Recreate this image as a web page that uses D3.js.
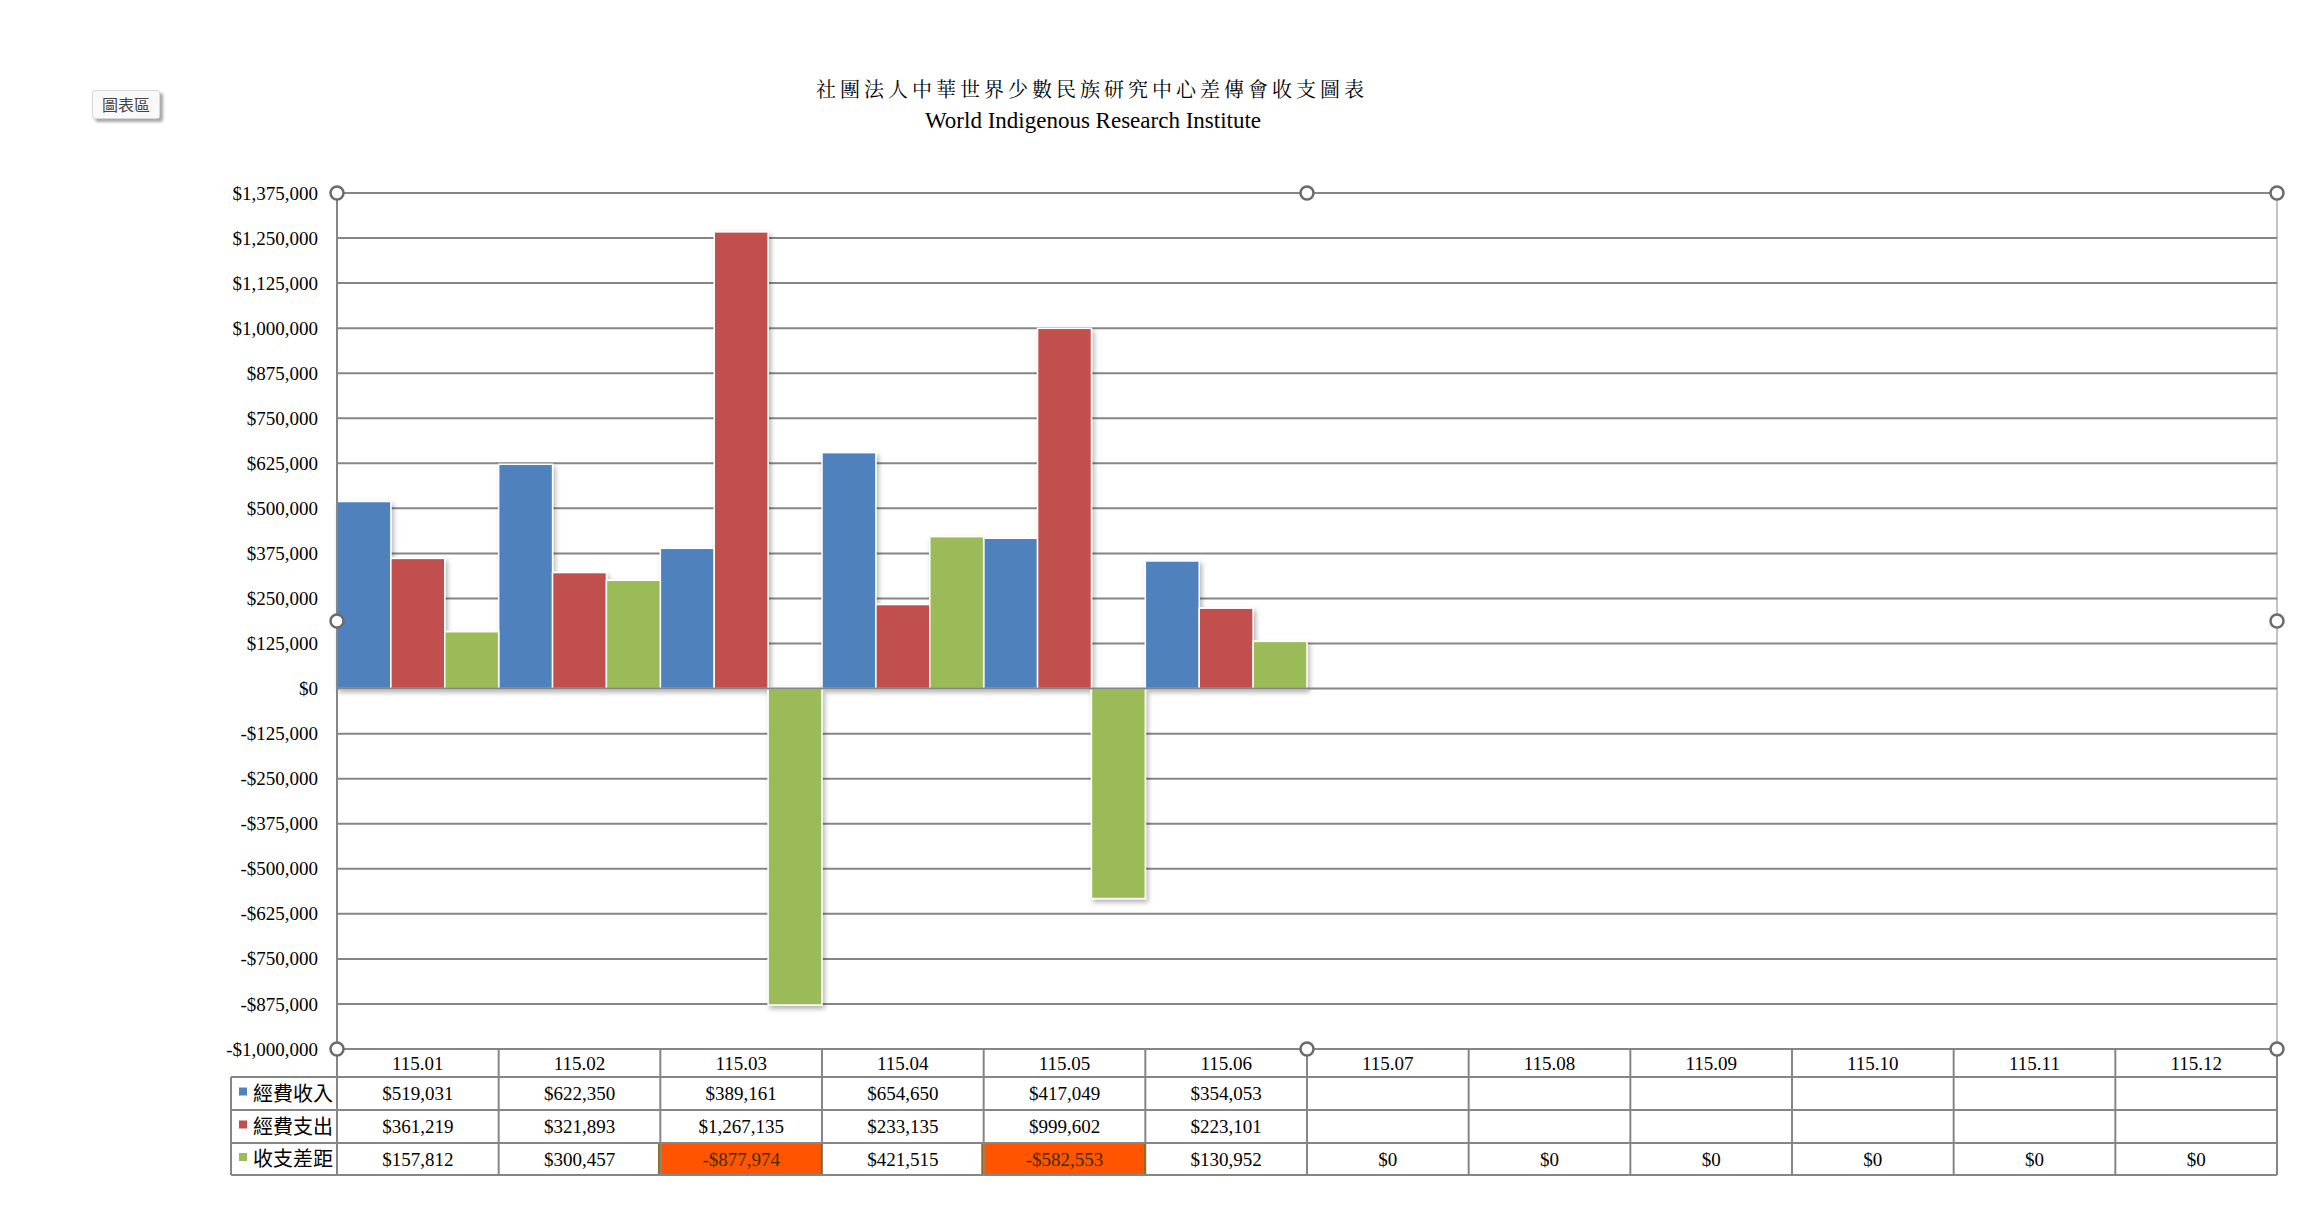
<!DOCTYPE html>
<html>
<head>
    <meta charset="utf-8">
    <title>社團法人中華世界少數民族研究中心差傳會收支圖表</title>
    <script src="https://d3js.org/d3.v7.min.js"></script>
    <style>
        body {
            margin: 0;
            padding: 0;
            background-color: #ffffff;
        }
        .chart-btn {
            position: absolute;
            left: 92px;
            top: 90px;
            width: 66px;
            height: 27px;
            background: #f9f9f9;
            border: 1px solid #d8d8d8;
            border-radius: 3px;
            box-shadow: 3px 3px 3px rgba(0, 0, 0, 0.35);
            font-family: "Noto Sans CJK TC", sans-serif;
            font-size: 16px;
            line-height: 27px;
            text-align: center;
            color: #444;
        }
        .tick text {
            font-family: "Liberation Serif", serif;
            font-size: 19px;
            fill: #000;
        }
    </style>
</head>
<body>
    <div class="chart-btn">圖表區</div>
    <div id="chart"></div>

    <script>
        const titleZh = "社團法人中華世界少數民族研究中心差傳會收支圖表";
        const titleEn = "World Indigenous Research Institute";

        const months = ["115.01", "115.02", "115.03", "115.04", "115.05", "115.06",
                        "115.07", "115.08", "115.09", "115.10", "115.11", "115.12"];
        const seriesNames = ["經費收入", "經費支出", "收支差距"];
        const seriesColors = ["#4F81BD", "#C0504D", "#9BBB59"];

        const income  = [519031, 622350, 389161, 654650, 417049, 354053, null, null, null, null, null, null];
        const expense = [361219, 321893, 1267135, 233135, 999602, 223101, null, null, null, null, null, null];
        const balance = [157812, 300457, -877974, 421515, -582553, 130952, 0, 0, 0, 0, 0, 0];

        const yTicks = [-1000000, -875000, -750000, -625000, -500000, -375000, -250000, -125000, 0,
                        125000, 250000, 375000, 500000, 625000, 750000, 875000, 1000000, 1125000, 1250000, 1375000];

        const allSeries = [income, expense, balance];

        const W = 2319, H = 1216;
        const plot = {left: 337, right: 2277, top: 193, bottom: 1049};
        const rowH = [28, 33, 33, 32];   // header row + 3 data rows
        const legendLeft = 231;
        const gridColor = "#868686";

        const fmt = d3.formatLocale({decimal: ".", thousands: ",", grouping: [3], currency: ["$", ""], minus: "-"})
            .format("$,.0f");

        const svg = d3.select("#chart")
            .append("svg")
                .attr("width", W)
                .attr("height", H)
                .style("display", "block");

        // soft shadow under the bars
        const defs = svg.append("defs");
        defs.append("filter")
            .attr("id", "shadow")
            .attr("x", "-10%").attr("y", "-10%")
            .attr("width", "130%").attr("height", "130%")
          .append("feDropShadow")
            .attr("dx", 2).attr("dy", 3)
            .attr("stdDeviation", 2.5)
            .attr("flood-color", "#000")
            .attr("flood-opacity", 0.3);

        // titles
        svg.append("text")
            .attr("x", 1092)
            .attr("y", 97)
            .attr("text-anchor", "middle")
            .style("font-family", "'Noto Serif CJK TC', 'Noto Sans CJK TC', serif")
            .style("font-size", "20px")
            .style("letter-spacing", "4px")
            .text(titleZh);

        svg.append("text")
            .attr("x", 1093)
            .attr("y", 128)
            .attr("text-anchor", "middle")
            .style("font-family", "'Liberation Serif', serif")
            .style("font-size", "23px")
            .text(titleEn);

        const x = d3.scaleBand()
            .domain(months)
            .range([plot.left, plot.right])
            .padding(0);

        const xSub = d3.scaleBand()
            .domain(seriesNames)
            .range([0, x.bandwidth()])
            .padding(0);

        const y = d3.scaleLinear()
            .domain([yTicks[0], yTicks[yTicks.length - 1]])
            .range([plot.bottom, plot.top]);

        // gridlines
        svg.append("g")
            .selectAll("line")
            .data(yTicks.filter(d => d !== 0))
            .enter().append("line")
                .attr("x1", plot.left)
                .attr("x2", plot.right)
                .attr("y1", d => y(d))
                .attr("y2", d => y(d))
                .style("stroke", gridColor)
                .style("stroke-width", 2);

        // right border of plot area
        svg.append("line")
            .attr("x1", plot.right).attr("x2", plot.right)
            .attr("y1", plot.top).attr("y2", plot.bottom)
            .style("stroke", gridColor)
            .style("stroke-width", 1);

        // bars
        const bars = svg.append("g").attr("filter", "url(#shadow)");
        allSeries.forEach(function(values, i) {
            bars.selectAll(".bar" + i)
                .data(values.map((v, j) => ({month: months[j], value: v})).filter(d => d.value))
                .enter().append("rect")
                    .attr("class", "bar" + i)
                    .attr("x", d => x(d.month) + xSub(seriesNames[i]))
                    .attr("width", xSub.bandwidth())
                    .attr("y", d => y(Math.max(0, d.value)))
                    .attr("height", d => Math.abs(y(d.value) - y(0)))
                    .style("fill", seriesColors[i])
                    .style("stroke", "#fff")
                    .style("stroke-width", 1.5);
        });

        // zero line on top of bars
        svg.append("line")
            .attr("x1", plot.left).attr("x2", plot.right)
            .attr("y1", y(0)).attr("y2", y(0))
            .style("stroke", gridColor)
            .style("stroke-width", 2);

        // y axis labels
        svg.append("g")
            .attr("transform", "translate(" + plot.left + ",0)")
            .call(d3.axisLeft(y).tickValues(yTicks).tickFormat(fmt).tickSize(0).tickPadding(19))
            .call(g => g.select(".domain").remove());

        // data table
        const rowY = [plot.bottom];
        rowH.forEach(h => rowY.push(rowY[rowY.length - 1] + h));
        const tableBottom = rowY[rowY.length - 1];

        const table = svg.append("g");

        // highlighted negative balance cells
        balance.forEach(function(v, j) {
            if (v < 0) {
                table.append("rect")
                    .attr("x", x(months[j]) - 2)
                    .attr("y", rowY[3])
                    .attr("width", x.bandwidth() + 2)
                    .attr("height", rowY[4] - rowY[3])
                    .style("fill", "#FF5500");
            }
        });

        // horizontal table lines
        [1, 2, 3, 4].forEach(function(r) {
            table.append("line")
                .attr("x1", legendLeft).attr("x2", plot.right)
                .attr("y1", rowY[r]).attr("y2", rowY[r])
                .style("stroke", gridColor)
                .style("stroke-width", 2);
        });

        // vertical table lines
        months.forEach(function(m) {
            table.append("line")
                .attr("x1", x(m) + x.bandwidth()).attr("x2", x(m) + x.bandwidth())
                .attr("y1", plot.bottom).attr("y2", tableBottom)
                .style("stroke", gridColor)
                .style("stroke-width", 2);
        });
        table.append("line")
            .attr("x1", legendLeft).attr("x2", legendLeft)
            .attr("y1", rowY[1]).attr("y2", tableBottom)
            .style("stroke", gridColor)
            .style("stroke-width", 2);

        // left axis line down through table
        svg.append("line")
            .attr("x1", plot.left).attr("x2", plot.left)
            .attr("y1", plot.top).attr("y2", tableBottom)
            .style("stroke", gridColor)
            .style("stroke-width", 2);

        // brown edges on highlighted cells
        balance.forEach(function(v, j) {
            if (v < 0) {
                [x(months[j]) - 1.5, x(months[j]) + x.bandwidth() - 0.5].forEach(function(xx) {
                    table.append("line")
                        .attr("x1", xx).attr("x2", xx)
                        .attr("y1", rowY[3] + 1).attr("y2", rowY[4] - 1)
                        .style("stroke", "#8a6a1a")
                        .style("stroke-width", 1.5);
                });
            }
        });

        // month header
        table.selectAll(".month")
            .data(months)
            .enter().append("text")
                .attr("class", "month")
                .attr("x", d => x(d) + x.bandwidth() / 2)
                .attr("y", (rowY[0] + rowY[1]) / 2)
                .attr("dy", "0.35em")
                .attr("text-anchor", "middle")
                .style("font-family", "'Liberation Serif', serif")
                .style("font-size", "19px")
                .text(d => d);

        // legend cells + values
        allSeries.forEach(function(values, i) {
            const cy = (rowY[i + 1] + rowY[i + 2]) / 2;
            table.append("rect")
                .attr("x", 239)
                .attr("y", cy - 6)
                .attr("width", 8)
                .attr("height", 8)
                .style("fill", seriesColors[i]);
            table.append("text")
                .attr("x", 253)
                .attr("y", cy)
                .attr("dy", "0.36em")
                .style("font-family", "'Noto Sans CJK TC', sans-serif")
                .style("font-size", "20px")
                .text(seriesNames[i]);

            table.selectAll(".val" + i)
                .data(values.map((v, j) => ({month: months[j], value: v})).filter(d => d.value !== null))
                .enter().append("text")
                    .attr("class", "val" + i)
                    .attr("x", d => x(d.month) + x.bandwidth() / 2)
                    .attr("y", cy)
                    .attr("dy", "0.35em")
                    .attr("text-anchor", "middle")
                    .style("font-family", "'Liberation Serif', serif")
                    .style("font-size", "19px")
                    .style("fill", d => d.value < 0 ? "#3d2e00" : "#000")
                    .text(d => fmt(d.value));
        });

        // selection handles
        const midX = (plot.left + plot.right) / 2, midY = (plot.top + plot.bottom) / 2;
        const handles = [[plot.left, plot.top], [midX, plot.top], [plot.right, plot.top],
                         [plot.left, midY], [plot.right, midY],
                         [plot.left, plot.bottom], [midX, plot.bottom], [plot.right, plot.bottom]];
        svg.append("g")
            .selectAll("circle")
            .data(handles)
            .enter().append("circle")
                .attr("cx", d => d[0])
                .attr("cy", d => d[1])
                .attr("r", 6.5)
                .style("fill", "#fff")
                .style("stroke", "#6b6b6b")
                .style("stroke-width", 2.5);
    </script>
</body>
</html>
